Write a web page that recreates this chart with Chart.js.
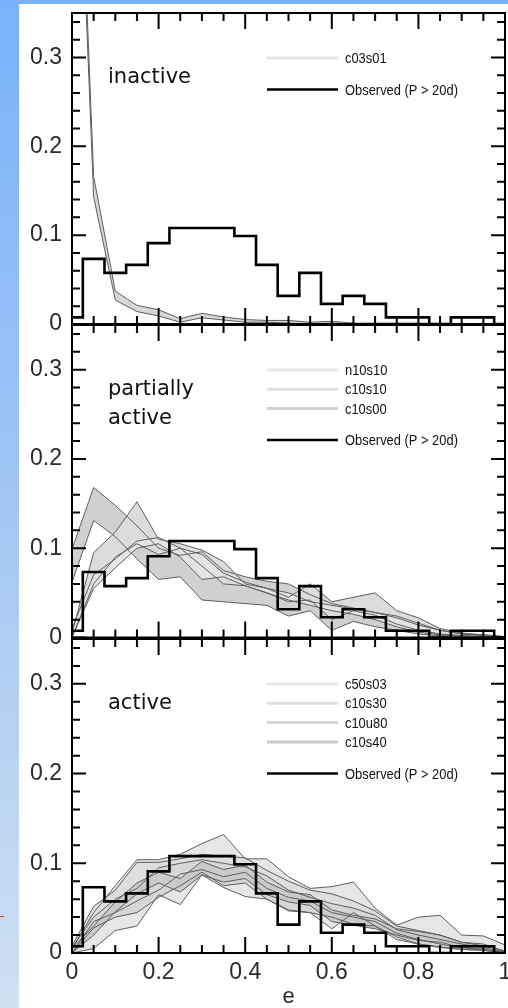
<!DOCTYPE html>
<html><head><meta charset="utf-8">
<script src="https://cdn.jsdelivr.net/npm/chart.js@4"></script>
<style>
html,body{margin:0;padding:0;}
body{width:508px;height:1008px;position:relative;overflow:hidden;background:linear-gradient(to bottom,#78b2fa 0%,#a2c6f4 50%,#cfe0f0 100%);}
#paper{position:absolute;left:19px;top:4px;width:489px;height:1004px;background:#fff;}
canvas{position:absolute;left:0;top:0;}
#mark{position:absolute;left:0;top:916px;width:4px;height:1px;background:#e33;}
</style></head><body>
<div id="paper"></div><div id="mark"></div>
<canvas id="c1" width="508" height="1008"></canvas>
<canvas id="c2" width="508" height="1008"></canvas>
<canvas id="c3" width="508" height="1008"></canvas>
<script>
// ---- data ----
const eBins = [0,0.05,0.1,0.15,0.2,0.25,0.3,0.35,0.4,0.45,0.5,0.55,0.6,0.65,0.7,0.75,0.8,0.85,0.9,0.95,1.0];
const observed = [0.0075,0.0733,0.0575,0.0665,0.091,0.108,0.108,0.108,0.099,0.0665,0.0316,0.0575,0.0226,0.0316,0.0226,0.0075,0.0075,0,0.0075,0.0075,0];

const c03s01Upper = [0.78,0.166,0.037,0.021,0.016,0.006,0.012,0.008,0.005,0.004,0.004,0.002,0.003,0.001,0.001,0.001,0.001,0.0005,0.0003,0.0002,0.0001];
const c03s01Lower = [0.75,0.143,0.027,0.014,0.009,0.002,0.007,0.0045,0.002,0.002,0.001,0.0,0.001,0,0,0,0,0,0,0,0];

const c10s00Upper = [0.099,0.168,0.148,0.125,0.100,0.092,0.096,0.075,0.068,0.063,0.060,0.048,0.038,0.033,0.028,0.022,0.014,0.008,0.004,0.002,0.000];
const c10s00Lower = [0.062,0.131,0.113,0.088,0.065,0.068,0.042,0.040,0.038,0.036,0.024,0.030,0.008,0.018,0.012,0.008,0.004,0.002,0.001,0.000,0.000];
const c10s10Upper = [0.005,0.095,0.118,0.152,0.110,0.105,0.098,0.085,0.060,0.055,0.045,0.060,0.040,0.045,0.050,0.030,0.022,0.010,0.005,0.003,0.001];
const c10s10Lower = [0.000,0.060,0.090,0.105,0.093,0.100,0.080,0.060,0.058,0.050,0.040,0.042,0.020,0.030,0.025,0.015,0.008,0.004,0.002,0.001,0.000];
const n10s10Upper = [0.010,0.070,0.088,0.108,0.112,0.100,0.093,0.072,0.062,0.055,0.050,0.040,0.036,0.032,0.028,0.024,0.016,0.008,0.004,0.003,0.001];
const n10s10Lower = [0.000,0.055,0.078,0.100,0.105,0.090,0.065,0.068,0.058,0.050,0.042,0.036,0.030,0.026,0.020,0.012,0.006,0.003,0.002,0.001,0.000];

const c50s03Upper = [0.005,0.045,0.075,0.104,0.104,0.110,0.122,0.132,0.105,0.105,0.085,0.072,0.074,0.079,0.050,0.031,0.040,0.042,0.020,0.019,0.009];
const c50s03Lower = [0.000,0.005,0.025,0.030,0.065,0.054,0.087,0.073,0.063,0.060,0.047,0.045,0.027,0.045,0.030,0.015,0.010,0.006,0.004,0.003,0.000];
const c10s30Upper = [0.008,0.052,0.070,0.101,0.101,0.105,0.110,0.108,0.106,0.092,0.080,0.070,0.066,0.058,0.047,0.030,0.025,0.020,0.012,0.010,0.002];
const c10s30Lower = [0.000,0.035,0.045,0.058,0.070,0.088,0.093,0.085,0.090,0.072,0.062,0.058,0.045,0.040,0.035,0.022,0.015,0.010,0.006,0.004,0.000];
const c10u80Upper = [0.006,0.040,0.060,0.072,0.095,0.100,0.104,0.100,0.096,0.086,0.070,0.062,0.055,0.050,0.042,0.026,0.020,0.015,0.010,0.006,0.001];
const c10u80Lower = [0.000,0.028,0.040,0.045,0.062,0.075,0.090,0.075,0.078,0.060,0.048,0.045,0.040,0.032,0.030,0.018,0.010,0.007,0.004,0.003,0.000];
const c10s40Upper = [0.005,0.030,0.057,0.078,0.090,0.083,0.102,0.093,0.098,0.079,0.068,0.065,0.048,0.042,0.038,0.027,0.024,0.020,0.012,0.008,0.002];
const c10s40Lower = [0.000,0.020,0.046,0.066,0.078,0.068,0.087,0.079,0.083,0.065,0.057,0.053,0.035,0.031,0.027,0.020,0.014,0.012,0.006,0.004,0.000];

const xTickValues = [0,0.2,0.4,0.6,0.8,1];
const xTickLabels = ['0','0.2','0.4','0.6','0.8','1'];
const yTickValues = [0,0.1,0.2,0.3];
const yTickLabels = ['0','0.1','0.2','0.3'];
const xMinorTicks = [0.05,0.1,0.15,0.25,0.3,0.35,0.45,0.5,0.55,0.65,0.7,0.75,0.85,0.9,0.95];
const yMinorTicks = [0.02,0.04,0.06,0.08,0.12,0.14,0.16,0.18,0.22,0.24,0.26,0.28,0.32,0.34];
const obsLabel = 'Observed (P > 20d)';

// ---- helpers ----
const pts = arr => eBins.map((e,i)=>({x:e,y:arr[i]}));
function band(upper, lower, fillColor){
  return [
    {data:pts(upper), borderColor:'#5e5e5e', borderWidth:1, fill:'+1', backgroundColor:fillColor, pointRadius:0, tension:0, order:1},
    {data:pts(lower), borderColor:'#5e5e5e', borderWidth:1, fill:false, pointRadius:0, tension:0, order:1}
  ];
}
function obsDataset(){
  return {data:pts(observed), stepped:'middle', borderColor:'#000', borderWidth:2.6, fill:false, pointRadius:0, order:0};
}

const frame = {
  id:'frame',
  afterDatasetsDraw(chart, args, o){
    const {ctx, chartArea:a, scales:{x,y}} = chart;
    ctx.save();
    ctx.strokeStyle='#000'; ctx.lineWidth=2; ctx.lineCap='butt';
    ctx.strokeRect(a.left, a.top, a.right-a.left, a.bottom-a.top);
    ctx.beginPath();
    const yt=(v,len)=>{const p=y.getPixelForValue(v); ctx.moveTo(a.left,p); ctx.lineTo(a.left+len,p); ctx.moveTo(a.right,p); ctx.lineTo(a.right-len,p);};
    const xt=(v,len)=>{const p=x.getPixelForValue(v); ctx.moveTo(p,a.top); ctx.lineTo(p,a.top+len); ctx.moveTo(p,a.bottom); ctx.lineTo(p,a.bottom-len);};
    yMinorTicks.forEach(v=>yt(v,8));
    yTickValues.forEach(v=>yt(v,14));
    xMinorTicks.forEach(v=>xt(v,8));
    xTickValues.forEach(v=>xt(v,16));
    ctx.stroke();
    // panel label
    ctx.fillStyle='#111'; ctx.font='21px "DejaVu Sans"'; ctx.textBaseline='alphabetic'; ctx.textAlign='left';
    o.label.forEach((t,i)=>ctx.fillText(t, 108, a.top+70+i*28.5));
    // legend
    const lx0=267, lx1=338, tx=345;
    const rows = o.legend;
    rows.forEach((r,i)=>{
      const yy = a.top+45+i*19.3;
      ctx.beginPath(); ctx.strokeStyle=r.color; ctx.lineWidth=3; ctx.moveTo(lx0,yy); ctx.lineTo(lx1,yy); ctx.stroke();
      drawCond(ctx, r.name, tx, yy);
    });
    const oy = a.top+45+(rows.length-1)*19.3+31.5;
    ctx.beginPath(); ctx.strokeStyle='#000'; ctx.lineWidth=2.5; ctx.moveTo(lx0,oy); ctx.lineTo(lx1,oy); ctx.stroke();
    drawCond(ctx, obsLabel, tx, oy);
    ctx.restore();
  }
};
function drawCond(ctx, text, x, y){
  ctx.save();
  ctx.translate(x,y); ctx.scale(0.86,1);
  ctx.font='15px "Liberation Sans"'; ctx.fillStyle='#111'; ctx.textBaseline='middle'; ctx.textAlign='left';
  ctx.fillText(text,0,1);
  ctx.restore();
}

const tickFont = {family:'"Liberation Sans", Arial, sans-serif', size:23};
function makePanel(id, datasets, top, bottomPad, showX, label, legend){
  return new Chart(document.getElementById(id), {
    type:'line',
    data:{datasets},
    options:{
      responsive:false, animation:false, devicePixelRatio:1,
      layout:{padding:{top:top, bottom:bottomPad, left:0, right:3}},
      plugins:{legend:{display:false}, tooltip:{enabled:false}, filler:{drawTime:'beforeDatasetsDraw'}, frame:{label, legend}},
      scales:{
        x:{type:'linear', min:0, max:1, display:showX,
           afterBuildTicks:s=>{s.ticks = xTickValues.map(v=>({value:v}));},
           ticks:{callback:(v,i)=>xTickLabels[i], font:tickFont, color:'#2a2a2a', padding:6, maxRotation:0, autoSkip:false},
           grid:{display:false, drawTicks:false}, border:{display:false},
           title:{display:true, text:'e', font:{family:'"Liberation Sans", Arial, sans-serif', size:22, lineHeight:1.0}, color:'#2a2a2a', padding:{top:0,bottom:0}},
           afterFit:s=>{s.height = showX ? 55 : 0; s.paddingLeft=0; s.paddingRight=0;}},
        y:{type:'linear', min:0, max:0.35, position:'left',
           afterBuildTicks:s=>{s.ticks = yTickValues.map(v=>({value:v}));},
           ticks:{callback:(v,i)=>yTickLabels[i], font:tickFont, color:'#2a2a2a', padding:10, autoSkip:false},
           grid:{display:false, drawTicks:false}, border:{display:false},
           afterFit:s=>{s.width=72; s.paddingTop=0; s.paddingBottom=0;}}
      }
    },
    plugins:[frame]
  });
}

makePanel('c1', [...band(c03s01Upper,c03s01Lower,'#d8d8d8'), obsDataset()], 13, 1008-324, false,
  ['inactive'], [{name:'c03s01', color:'#e6e6e6'}]);
makePanel('c2', [...band(n10s10Upper,n10s10Lower,'#e4e4e4'), ...band(c10s10Upper,c10s10Lower,'#dcdcdc'), ...band(c10s00Upper,c10s00Lower,'#d0d0d0'), obsDataset()], 325, 1008-637.5, false,
  ['partially','active'], [{name:'n10s10', color:'#e8e8e8'},{name:'c10s10', color:'#dddddd'},{name:'c10s00', color:'#d2d2d2'}]);
makePanel('c3', [...band(c10s40Upper,c10s40Lower,'#cacaca'), ...band(c10u80Upper,c10u80Lower,'#d6d6d6'), ...band(c10s30Upper,c10s30Lower,'#dedede'), ...band(c50s03Upper,c50s03Lower,'#e6e6e6'), obsDataset()], 639, 0, true,
  ['active'], [{name:'c50s03', color:'#e8e8e8'},{name:'c10s30', color:'#dfdfdf'},{name:'c10u80', color:'#d6d6d6'},{name:'c10s40', color:'#cccccc'}]);
</script>
</body></html>
